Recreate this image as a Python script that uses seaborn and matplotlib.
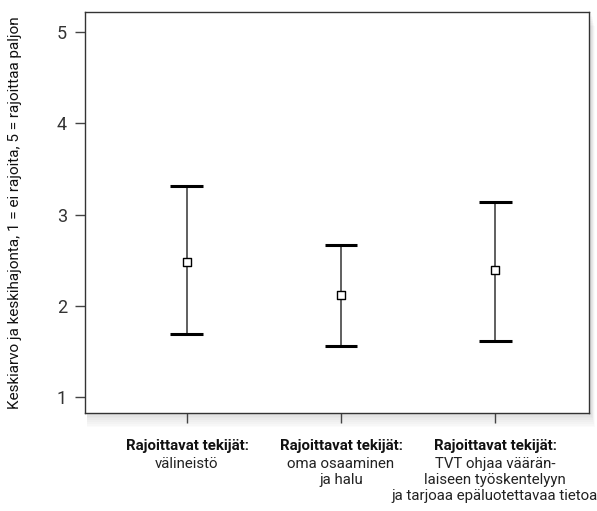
import seaborn as sns
import matplotlib.pyplot as plt
import matplotlib.transforms as mtransforms
import matplotlib.patches as mpatches
import pandas as pd

sns.set_style("white")
plt.rcParams['font.family'] = ['Roboto', 'DejaVu Sans']

# Data: mean and mean +/- sd
groups = ["välineistö", "osaaminen", "TVT"]
means = [2.48, 2.12, 2.39]
lower = [1.69, 1.56, 1.61]
upper = [3.31, 2.67, 3.14]
label_heads = ["Rajoittavat tekijät:"] * 3
label_bodies = [
    "välineistö",
    "oma osaaminen\nja halu",
    "TVT ohjaa väärän-\nlaiseen työskentelyyn\nja tarjoaa epäluotettavaa tietoa",
]
y_ticks = [1, 2, 3, 4, 5]

df = pd.DataFrame({"group": groups, "mean": means, "lower": lower, "upper": upper})

fig = plt.figure(figsize=(5.97, 5.11), dpi=100)
ax_box = [0.1424, 0.1918, 0.8442, 0.7847]

# soft drop shadow under the plot box
for i in range(8):
    d = (i + 1) * 0.0035
    fig.patches.append(mpatches.Rectangle(
        (ax_box[0] + 0.004, ax_box[1] - d), ax_box[2] + d * 0.2, ax_box[3],
        transform=fig.transFigure, facecolor="black", edgecolor="none",
        alpha=0.016, zorder=0))

ax = fig.add_axes(ax_box)
ax.set_zorder(2)
ax.set_facecolor("white")

xs = range(len(df))
ax.vlines(xs, df["lower"], df["upper"], color="#444444", lw=1.2, zorder=2)
cap = 0.107
for x, lo, hi in zip(xs, df["lower"], df["upper"]):
    ax.hlines([lo, hi], x - cap, x + cap, color="black", lw=2.2, zorder=2)

sns.scatterplot(data=df, x="group", y="mean", marker="s", s=40,
                facecolor="white", edgecolor="black", linewidth=1.0,
                zorder=3, ax=ax, legend=False)

ax.set_xlim(-0.662, 2.61)
ax.set_ylim(0.825, 5.22)
ax.set_yticks(y_ticks)
ax.set_yticklabels([str(t) for t in y_ticks], fontsize=13, color="#333333")
ax.set_xticks(list(xs))
ax.set_xticklabels([""] * len(df))
ax.tick_params(axis="both", direction="out", length=7, width=1, color="#444444",
               bottom=True, left=True, pad=6)
for sp in ax.spines.values():
    sp.set_color("#333333")
    sp.set_linewidth(1.0)

ax.set_xlabel("")
ax.set_ylabel("")
fig.text(15 / 597, 1 - 213 / 511,
         "Keskiarvo ja keskihajonta, 1 = ei rajoita, 5 = rajoittaa paljon",
         rotation=90, ha="center", va="center", fontsize=11, color="#111111")

trans = mtransforms.blended_transform_factory(ax.transData, fig.transFigure)
for x, head, body in zip(xs, label_heads, label_bodies):
    ax.text(x, 1 - 446 / 511, head, transform=trans, ha="center", va="center",
            fontsize=10.8, fontweight="bold", color="#111111")
    ax.text(x, 1 - 457 / 511, body, transform=trans, ha="center", va="top",
            fontsize=10.8, color="#222222", linespacing=1.2)

plt.savefig("out.png", dpi=100)
plt.close()
